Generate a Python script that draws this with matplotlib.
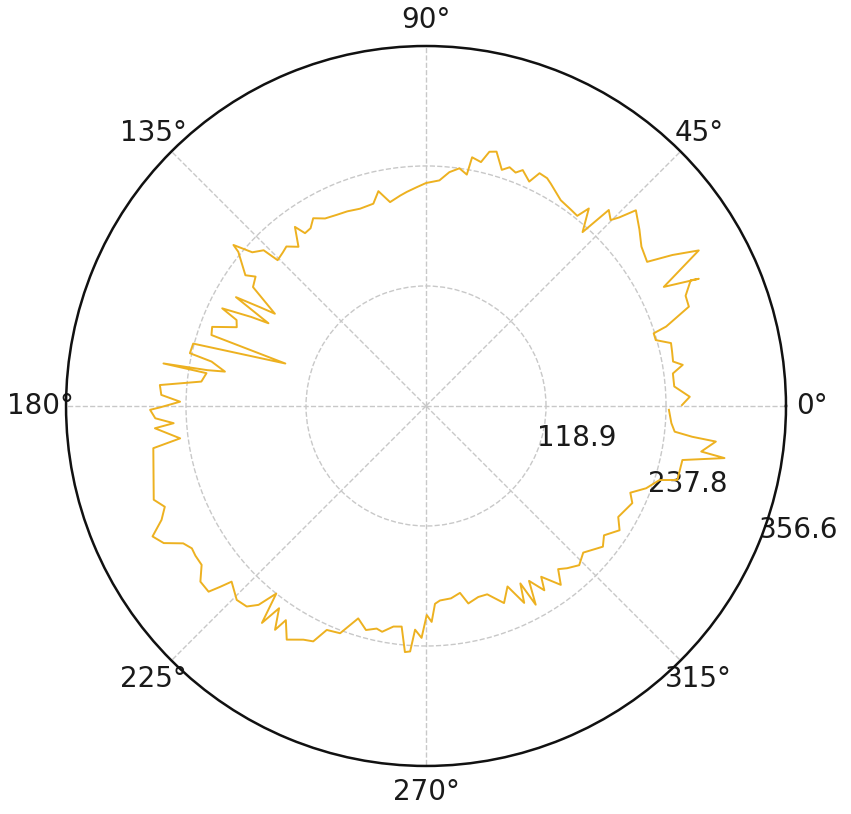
import numpy as np
import matplotlib
matplotlib.use("Agg")
import matplotlib.pyplot as plt

# Angles (degrees) and radii of the traced series, in drawing order
theta_deg = [
    0.2, 2.0, 4.5, 7.5, 9.1, 10.2, 12.5, 14.4, 16.0, 17.7,
    18.3, 20.7, 23.0, 25.4, 25.0, 26.6, 29.7, 31.5, 33.1, 36.5,
    39.6, 43.0, 44.3, 45.2, 47.0, 48.0, 50.5, 51.5, 53.5, 56.8,
    60.7, 62.0, 64.0, 65.3, 67.7, 69.0, 70.7, 72.2, 74.5, 76.0,
    77.3, 79.5, 80.0, 82.0, 84.3, 86.6, 90.0,
    92.4, 95.1, 97.0, 100.0, 102.5, 104.6, 108.5, 112.0, 115.0, 118.3,
    121.0, 123.0, 125.0, 126.2, 128.7, 131.2, 133.0, 135.5, 136.2, 138.5,
    140.1, 140.6, 144.1, 142.8, 145.5, 148.6, 149.2, 150.2, 152.3, 153.0,
    154.4, 155.6, 157.4, 159.7, 161.7, 163.2, 165.0, 167.4, 168.3, 170.3,
    170.7, 170.8, 171.5, 173.8, 175.5, 177.6, 179.0, 180.3,
    180.8, 182.6, 183.9, 184.7, 187.5, 188.8, 199.0, 201.1, 203.3, 205.5,
    207.6, 209.5, 211.3, 213.0, 215.3, 217.9, 220.5, 221.3, 222.1, 225.7,
    228.2, 229.9, 231.4, 232.9, 234.0, 236.0, 236.8, 239.2, 242.3, 244.4,
    246.1, 249.3, 252.3, 255.0, 257.5, 259.0, 261.6, 263.7, 265.1, 266.3,
    267.2, 268.9,
    270.2, 271.5, 272.6, 274.1, 277.4, 280.3, 282.1, 285.3, 288.0, 291.6,
    294.3, 296.5, 298.0, 298.9, 300.5, 302.7, 304.0, 307.0, 309.0, 311.0,
    313.9, 317.0, 321.5, 324.0, 327.3, 330.0, 334.8, 337.0, 339.5, 342.4,
    343.6, 348.1, 350.1, 350.6, 353.0, 353.4, 354.1, 356.0, 359.1,
]

radius = [
    253.6, 261.5, 246.7, 246.7, 257.6, 248.7, 249.7, 250.6, 236.8, 236.8,
    250.6, 278.4, 279.4, 290.3, 298.2, 263.5, 311.1, 286.3, 261.5, 265.5,
    274.4, 284.3, 267.5, 259.6, 265.5, 231.8, 253.6, 240.7, 241.7, 243.7,
    252.6, 255.6, 256.6, 244.7, 252.6, 247.7, 250.6, 245.7, 261.5, 259.6,
    247.7, 250.6, 232.8, 237.8, 232.8, 223.9, 220.9,
    217.0, 213.0, 210.0, 205.1, 218.0, 207.1, 206.1, 208.0, 209.0, 211.0,
    217.0, 210.0, 209.0, 219.9, 202.1, 210.0, 208.0, 206.1, 222.9, 229.8,
    248.7, 240.7, 220.9, 212.0, 208.0, 175.4, 190.2, 217.0, 176.3, 194.2,
    223.9, 206.1, 203.1, 225.9, 223.9, 145.6, 238.8, 239.7, 217.0, 202.1,
    219.9, 263.5, 219.9, 223.9, 264.5, 262.5, 243.7, 263.5,
    273.4, 268.5, 250.6, 269.5, 245.7, 273.4, 285.3, 277.4, 285.3, 300.2,
    293.2, 276.4, 271.5, 272.4, 272.4, 283.3, 283.3, 271.5, 259.6, 268.5,
    266.5, 257.6, 237.8, 269.5, 247.7, 267.5, 253.6, 269.5, 261.5, 258.6,
    242.7, 240.7, 220.9, 229.8, 225.9, 227.9, 220.9, 219.9, 244.7, 243.7,
    221.9, 229.8,
    207.1, 214.0, 196.2, 193.2, 192.2, 188.2, 200.1, 196.2, 196.2, 210.0,
    196.2, 218.0, 199.1, 224.9, 201.1, 217.0, 204.1, 221.9, 208.0, 213.0,
    218.9, 213.0, 223.9, 218.0, 227.9, 219.9, 225.9, 219.9, 232.8, 242.7,
    259.6, 259.6, 300.2, 276.4, 289.3, 265.5, 247.7, 243.7, 240.7,
]

# Axis ticks
r_max = 356.65
r_ticks = [118.9, 237.8, 356.6]
r_tick_labels = ["118.9", "237.8", "356.6"]
theta_ticks = [0, 45, 90, 135, 180, 225, 270, 315]
theta_tick_labels = ["0°", "45°", "90°", "135°", "180°", "225°", "270°", "315°"]


def main():
    fig = plt.figure(figsize=(8.51, 8.14), dpi=100)
    ax = fig.add_axes([0.0776, 0.059, 0.846, 0.8845], projection="polar")

    ax.plot(np.deg2rad(theta_deg), radius, color="#EDB120", linewidth=1.4)

    ax.set_ylim(0, r_max)
    ax.set_rgrids(r_ticks, labels=r_tick_labels, fontsize=20, color="#1a1a1a")
    ax.set_rlabel_position(-22.5)
    ax.set_thetagrids(theta_ticks, labels=theta_tick_labels, fontsize=20, color="#1a1a1a")

    # light dashed grid, dark outer ring
    ax.grid(True, color="#c8c8c8", linestyle="--", linewidth=1.0)
    ax.spines["polar"].set_color("#111111")
    ax.spines["polar"].set_linewidth(1.8)
    ax.tick_params(axis="x", pad=8)

    fig.savefig("out.png", dpi=100)


if __name__ == "__main__":
    main()
